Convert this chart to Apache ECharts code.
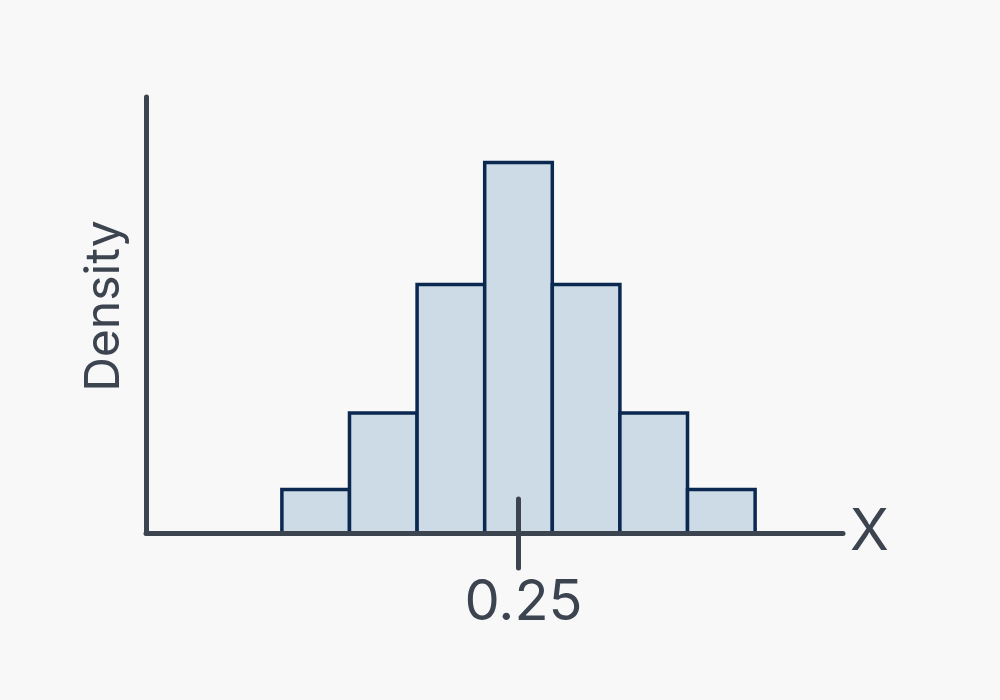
<!DOCTYPE html>
<html>
<head>
<meta charset="utf-8">
<script src="https://cdn.jsdelivr.net/npm/echarts@6/dist/echarts.min.js"></script>
<style>html,body{margin:0;padding:0;background:#f8f8f8;}#c{width:1000px;height:700px;}</style>
</head>
<body>
<div id="c"></div>
<script>
const binLeft = [0.075, 0.125, 0.175, 0.225, 0.275, 0.325, 0.375];
const binRight = [0.125, 0.175, 0.225, 0.275, 0.325, 0.375, 0.425];
const density = [1.0, 2.75, 5.7, 8.5, 5.7, 2.75, 1.0];
const tickValues = [0.25];
const tickLabels = ['0.25'];

const axisColor = '#3c4450';
const font = 'Inter';
const chart = echarts.init(document.getElementById('c'));
const data = binLeft.map((l, i) => [l, binRight[i], density[i]]);
chart.setOption({
  backgroundColor: '#f8f8f8',
  animation: false,
  grid: { left: 146, right: 157, top: 97, bottom: 167 },
  xAxis: [{
    type: 'value', min: -0.0255, max: 0.49, z: 10,
    name: 'X', nameLocation: 'end', nameGap: 7,
    nameTextStyle: { fontFamily: font, fontSize: 57, color: axisColor, verticalAlign: 'middle' },
    axisLine: { show: true, onZero: false, lineStyle: { color: axisColor, width: 5, cap: 'round' } },
    axisTick: { show: true, customValues: tickValues, length: 35, lineStyle: { color: axisColor, width: 5, cap: 'round' } },
    axisLabel: { show: true, customValues: tickValues, formatter: v => tickLabels[tickValues.indexOf(v)] || '', margin: 42, fontFamily: font, fontSize: 56, color: axisColor, padding: [0, 0, 0, 10] },
    splitLine: { show: false }
  }, {
    type: 'value', min: -0.0255, max: 0.49, position: 'bottom', z: 10,
    axisLine: { show: false, onZero: false },
    axisTick: { show: true, inside: true, customValues: tickValues, length: 34, lineStyle: { color: axisColor, width: 5, cap: 'round' } },
    axisLabel: { show: false },
    splitLine: { show: false }
  }],
  yAxis: {
    type: 'value', min: 0, max: 10,
    name: 'Density', nameLocation: 'middle', nameGap: 17, nameRotate: 90,
    nameTextStyle: { fontFamily: font, fontSize: 48, color: axisColor, padding: [0, 0, 0, 18] },
    axisLine: { show: true, onZero: false, lineStyle: { color: axisColor, width: 5, cap: 'round' } },
    axisTick: { show: false }, axisLabel: { show: false }, splitLine: { show: false }
  },
  series: [{
    type: 'custom', xAxisIndex: 0, yAxisIndex: 0,
    data: data,
    encode: { x: [0, 1], y: 2 },
    renderItem: function (params, api) {
      const p0 = api.coord([api.value(0), api.value(2)]);
      const p1 = api.coord([api.value(1), 0]);
      return {
        type: 'rect',
        shape: { x: p0[0], y: p0[1], width: p1[0] - p0[0], height: p1[1] - p0[1] },
        style: { fill: '#cddbe6', stroke: '#0b2850', lineWidth: 3.5 }
      };
    }
  }]
});
</script>
</body>
</html>
